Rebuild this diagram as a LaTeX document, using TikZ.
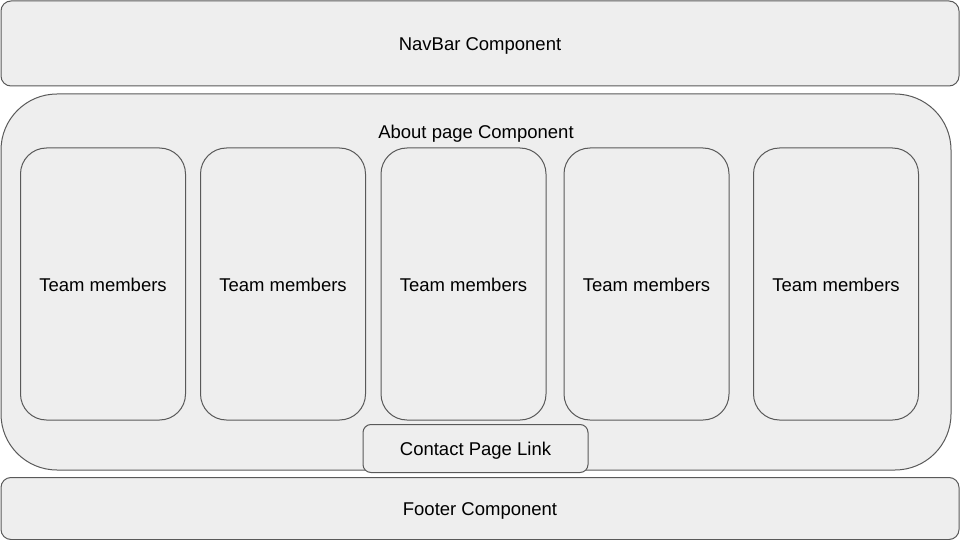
\documentclass[tikz,border=0pt]{standalone}
\usepackage{fontspec}
\setmainfont{Liberation Sans}
\usetikzlibrary{positioning}
\definecolor{boxfill}{HTML}{EEEEEE}
\definecolor{boxline}{HTML}{595959}

\begin{document}
\begin{tikzpicture}[x=1pt, y=-1pt,
  bx/.style={draw=boxline, fill=boxfill, line width=1pt, inner sep=0pt,
             text height=14pt, text depth=0pt,
             font=\fontsize{18.5}{22}\selectfont},
  bar/.style={bx, rounded corners=10pt, minimum width=958pt},
  team/.style={bx, rounded corners=26pt, minimum width=165pt, minimum height=272pt},
  txt/.style={inner sep=0pt, text height=14pt, text depth=0pt,
              font=\fontsize{18.5}{22}\selectfont}]
\useasboundingbox (0,0) rectangle (960,540);
\node[bar, minimum height=85pt] (nav) at (480,43.5) {NavBar Component};
\node[bx, rounded corners=56pt, minimum width=950pt, minimum height=376pt] (about) at (476,282) {};
\node[txt] (abouttxt) at (476,131.5) {About page Component};
\node[team] (t1) at (103,284) {Team members};
\node[team] (t2) at (283,284) {Team members};
\node[team] (t3) at (463.5,284) {Team members};
\node[team] (t4) at (646.5,284) {Team members};
\node[team] (t5) at (836,284) {Team members};
\node[bx, rounded corners=8pt, minimum width=225pt, minimum height=48pt] (contact) at (475.5,448.5) {Contact Page Link};
\node[bar, minimum height=62pt] (footer) at (480,508.5) {Footer Component};
\end{tikzpicture}
\end{document}
